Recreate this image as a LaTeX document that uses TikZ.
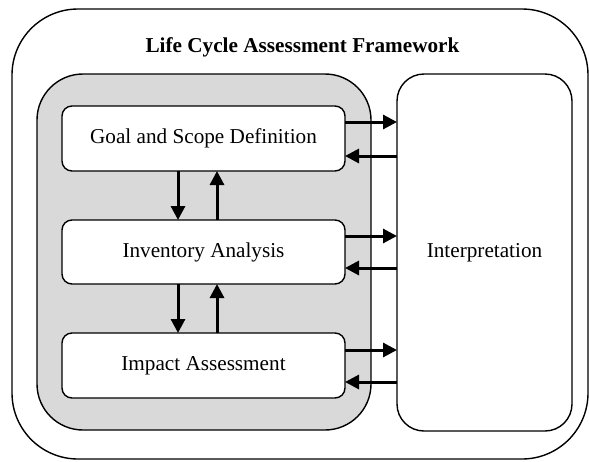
\documentclass[tikz,border=0pt]{standalone}
\usepackage{fontspec}
\setmainfont{Liberation Serif}
\usetikzlibrary{arrows.meta}
\begin{document}
\begin{tikzpicture}[x=1pt,y=-1pt,
  frame/.style={draw=black,line width=1.4pt,inner sep=0pt,outer sep=0pt},
  stagebox/.style={frame,fill=white,rounded corners=10pt,minimum width=283pt,minimum height=65pt,
    font=\fontsize{21.2pt}{24pt}\selectfont},
  arr/.style={line width=3pt,-{Triangle[length=14pt,width=14pt]}}]
\useasboundingbox (0,0) rectangle (589,461);
\node[frame,rounded corners=66pt,minimum width=576pt,minimum height=450pt] (outer) at (300,234) {};
\node[font=\bfseries\fontsize{21.2pt}{24pt}\selectfont,anchor=base] (title) at (302.5,52) {Life Cycle Assessment Framework};
\node[frame,fill=black!15,rounded corners=46pt,minimum width=334pt,minimum height=356pt] (phases) at (204,252) {};
\node[frame,fill=white,rounded corners=27pt,minimum width=175pt,minimum height=357pt,
  font=\fontsize{21.2pt}{24pt}\selectfont] (interp) at (484.5,252.5) {Interpretation};
\node[stagebox] (goal) at (203.5,138.5) {Goal and Scope Definition};
\node[stagebox,minimum height=64pt] (inv) at (203.5,252) {Inventory Analysis};
\node[stagebox] (imp) at (203.5,365.5) {Impact Assessment};
% vertical arrows
\draw[arr] ([xshift=-25.5pt]goal.south) -- ([xshift=-25.5pt]inv.north);
\draw[arr] ([xshift=13.5pt]inv.north) -- ([xshift=13.5pt]goal.south);
\draw[arr] ([xshift=-25.5pt]inv.south) -- ([xshift=-25.5pt]imp.north);
\draw[arr] ([xshift=13.5pt]imp.north) -- ([xshift=13.5pt]inv.south);
% horizontal arrows
\draw[arr] ([yshift=16.5pt]goal.east) -- ([yshift=16.5pt]goal.east -| interp.west);
\draw[arr] ([yshift=-17.5pt]goal.east -| interp.west) -- ([yshift=-17.5pt]goal.east);
\draw[arr] ([yshift=16pt]inv.east) -- ([yshift=16pt]inv.east -| interp.west);
\draw[arr] ([yshift=-16pt]inv.east -| interp.west) -- ([yshift=-16pt]inv.east);
\draw[arr] ([yshift=15.5pt]imp.east) -- ([yshift=15.5pt]imp.east -| interp.west);
\draw[arr] ([yshift=-16.5pt]imp.east -| interp.west) -- ([yshift=-16.5pt]imp.east);
\end{tikzpicture}
\end{document}
